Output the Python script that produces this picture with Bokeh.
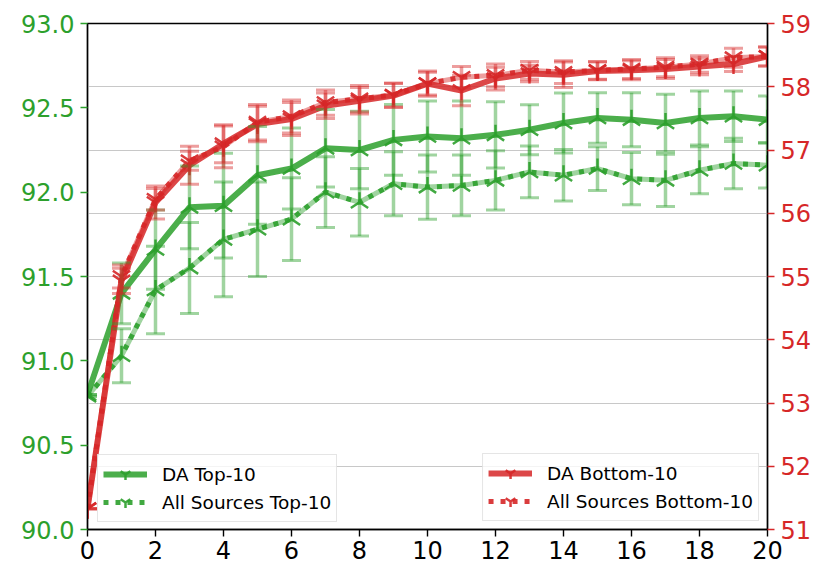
import numpy as np
from bokeh.plotting import figure
from bokeh.models import (Range1d, LinearAxis, ColumnDataSource, Whisker, TeeHead,
                          Legend, LegendItem, SingleIntervalTicker, NumeralTickFormatter)
from bokeh.embed import file_html
from bokeh.resources import INLINE

# ---------------- data ----------------
rounds = list(range(21))

da_top10 = [90.80, 91.40, 91.66, 91.91, 91.92, 92.10, 92.14, 92.26, 92.25, 92.31, 92.33,
            92.32, 92.34, 92.37, 92.41, 92.44, 92.43, 92.41, 92.44, 92.45, 92.43]
da_top10_err = [0.0, 0.18, 0.235, 0.245, 0.31, 0.29, 0.24, 0.23, 0.23, 0.21, 0.21,
                0.22, 0.196, 0.148, 0.178, 0.15, 0.16, 0.17, 0.16, 0.15, 0.14]

all_top10 = [90.79, 91.03, 91.42, 91.55, 91.72, 91.78, 91.84, 92.00, 91.94, 92.05, 92.03,
             92.04, 92.07, 92.12, 92.10, 92.14, 92.08, 92.07, 92.13, 92.17, 92.16]
all_top10_err = [0.0, 0.16, 0.26, 0.27, 0.34, 0.28, 0.245, 0.21, 0.20, 0.19, 0.19,
                 0.18, 0.175, 0.153, 0.153, 0.13, 0.155, 0.155, 0.14, 0.15, 0.135]

da_bottom10 = [51.33, 54.93, 56.17, 56.76, 57.10, 57.41, 57.49, 57.70, 57.78, 57.86, 58.05,
               57.94, 58.13, 58.21, 58.19, 58.25, 58.26, 58.28, 58.32, 58.36, 58.48]
da_bottom10_err = [0.0, 0.20, 0.26, 0.30, 0.30, 0.28, 0.26, 0.20, 0.21, 0.19, 0.20,
                   0.24, 0.18, 0.13, 0.20, 0.14, 0.15, 0.15, 0.13, 0.12, 0.15]

all_bottom10 = [51.33, 55.00, 56.22, 56.83, 57.05, 57.44, 57.53, 57.75, 57.81, 57.87, 58.05,
                58.15, 58.18, 58.26, 58.23, 58.26, 58.28, 58.31, 58.36, 58.46, 58.48]
all_bottom10_err = [0.0, 0.18, 0.17, 0.15, 0.33, 0.28, 0.26, 0.20, 0.21, 0.19, 0.18,
                    0.17, 0.18, 0.14, 0.18, 0.14, 0.15, 0.15, 0.13, 0.15, 0.15]

left_range = (90.0, 93.0)
right_range = (51.0, 59.0)

GREEN = "#2ca02c"
RED = "#d62728"
FONT = "DejaVu Sans"


def make_source(vals, errs):
    v = np.array(vals)
    e = np.array(errs)
    return ColumnDataSource(dict(x=rounds, y=v, upper=v + e, lower=v - e))


# ---------------- figure ----------------
p = figure(width=814, height=569, output_backend="svg", toolbar_location=None,
           x_range=Range1d(0, 20), y_range=Range1d(*right_range), y_axis_location="right",
           min_border_left=87, min_border_right=46, min_border_top=23, min_border_bottom=40)
p.background_fill_color = "white"
p.border_fill_color = "white"
p.outline_line_color = "black"
p.outline_line_width = 1.4
p.outline_line_alpha = 1.0

right_axis = p.right[0]
right_axis.ticker = SingleIntervalTicker(interval=1)
p.extra_y_ranges = {"left": Range1d(*left_range)}
left_axis = LinearAxis(y_range_name="left", ticker=SingleIntervalTicker(interval=0.5),
                       formatter=NumeralTickFormatter(format="0.0"))
p.add_layout(left_axis, "left")

p.xaxis.ticker = SingleIntervalTicker(interval=2)

for ax, col in ((left_axis, GREEN), (right_axis, RED), (p.xaxis[0], "black")):
    ax.major_label_text_font = FONT
    ax.major_label_text_font_size = "24px"
    ax.major_label_text_color = col
    ax.major_tick_line_color = col
    ax.major_tick_line_width = 1.4
    ax.major_tick_out = 7
    ax.major_tick_in = 0
    ax.minor_tick_line_color = None
    ax.axis_line_color = "black"
    ax.axis_line_width = 1.4
    ax.major_label_standoff = 6
p.xaxis[0].major_label_standoff = 4

p.xgrid.visible = False
p.ygrid.grid_line_color = "#c8c8c8"
p.ygrid.grid_line_width = 1.2

# ---------------- series ----------------
def add_series(vals, errs, color, rng, dotted, angle):
    src = make_source(vals, errs)
    kw = {} if rng is None else {"y_range_name": rng}
    wh = Whisker(source=src, base="x", upper="upper", lower="lower",
                 line_color=color, line_alpha=0.45, line_width=3.5, level="glyph",
                 upper_head=TeeHead(size=19, line_color=color, line_alpha=0.45, line_width=3),
                 lower_head=TeeHead(size=19, line_color=color, line_alpha=0.45, line_width=3),
                 **kw)
    p.add_layout(wh)
    if dotted:
        p.line("x", "y", source=src, line_color=color, line_alpha=0.45, line_width=5, **kw)
        ln = p.line("x", "y", source=src, line_color=color, line_alpha=0.9, line_width=5,
                    line_dash="5 7", **kw)
    else:
        ln = p.line("x", "y", source=src, line_color=color, line_alpha=0.85, line_width=6, **kw)
    mk = p.scatter("x", "y", source=src, marker="y", size=20, angle=angle,
                   line_color=color, line_width=2.5, line_alpha=0.9, **kw)
    return [ln, mk]


g_all = add_series(all_top10, all_top10_err, GREEN, "left", True, np.pi)
g_da = add_series(da_top10, da_top10_err, GREEN, "left", False, np.pi)
r_da = add_series(da_bottom10, da_bottom10_err, RED, None, False, 0.0)
r_all = add_series(all_bottom10, all_bottom10_err, RED, None, True, 0.0)


def style_legend(lg):
    lg.label_text_font = FONT
    lg.label_text_font_size = "18.5px"
    lg.label_text_color = "black"
    lg.border_line_color = "#cccccc"
    lg.border_line_width = 1.2
    lg.background_fill_color = "white"
    lg.background_fill_alpha = 0.8
    lg.glyph_width = 44
    lg.glyph_height = 28
    lg.label_height = 24
    lg.label_standoff = 15
    lg.padding = 5
    lg.spacing = 0
    lg.margin = 8


leg1 = Legend(items=[LegendItem(label="DA Top-10", renderers=g_da),
                     LegendItem(label="All Sources Top-10", renderers=g_all)],
              location=(10, 7))
style_legend(leg1)
leg2 = Legend(items=[LegendItem(label="DA Bottom-10", renderers=r_da),
                     LegendItem(label="All Sources Bottom-10", renderers=r_all)],
              location="bottom_right")
style_legend(leg2)
p.add_layout(leg1)
p.add_layout(leg2)

open("out.html", "w").write(file_html(p, INLINE))
